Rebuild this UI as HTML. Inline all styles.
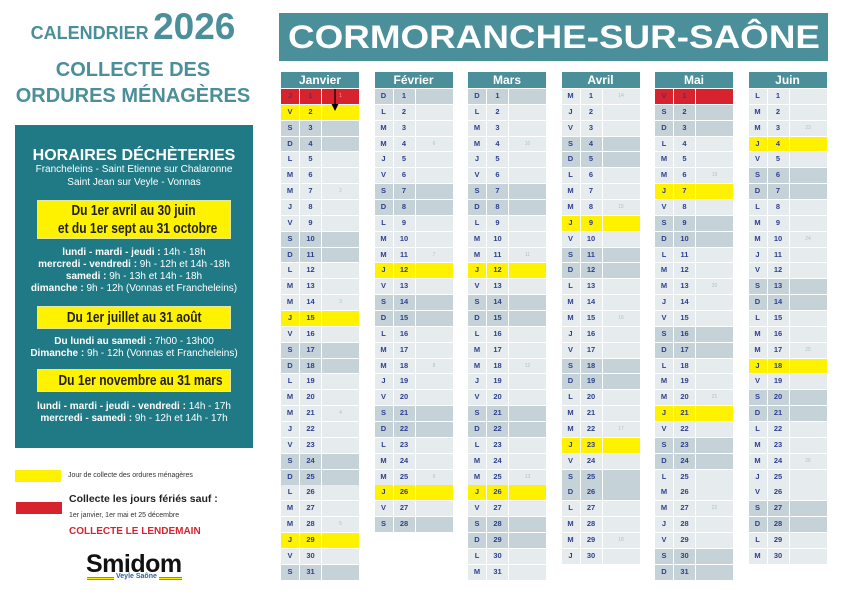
<!DOCTYPE html>
<html><head><meta charset="utf-8"><style>
*{box-sizing:border-box}
body{margin:0;width:842px;height:595px;background:#fff;position:relative;overflow:hidden;font-family:"Liberation Sans",sans-serif}
.a{position:absolute}
.m{position:absolute;top:72px;width:78px}
.m h3{margin:0;height:16px;background:#4a8f99;color:#fff;font-size:12px;font-weight:bold;text-align:center;line-height:16px}
.m .g{margin-top:1px;display:grid;grid-auto-rows:14.87px;row-gap:1px}
.m p{margin:0;display:grid;grid-template-columns:18px 21px 37px;column-gap:1px}
.m p b{background:#e6ecee;color:#2e3f8f;font-size:7.5px;text-align:center;line-height:14.87px}
.m p b:nth-child(3){color:#b5bec4;font-weight:normal;font-size:5px}
.m p.e b{background:#c5d3d8}
.m p.y b{background:#fff200}
.m p.r b{background:#d7232e;color:#6a2a6a}
.m p.r b:nth-child(3){color:#f0a0a0}
.c{text-align:center;color:#fff;white-space:nowrap}
.yb{position:absolute;left:37px;width:194px;background:#fff200;border:1px solid #e0e8a0;color:#222;font-weight:bold;text-align:center;font-size:15px;line-height:18px;white-space:nowrap}
.sx{display:inline-block;transform:scaleX(.8);transform-origin:center}
</style></head><body>

<div class="a" style="left:0;width:266px;top:6px;text-align:center;color:#4a8f99;font-weight:bold;white-space:nowrap"><span style="font-size:18px">CALENDRIER</span> <span style="font-size:37px">2026</span></div>
<div class="a" style="left:0;width:266px;top:57px;text-align:center;color:#4a8f99;font-weight:bold;font-size:20px;line-height:26px;white-space:nowrap">COLLECTE DES<br>ORDURES MÉNAGÈRES</div>

<div class="a" style="left:15px;top:125px;width:238px;height:323px;background:#1f7a86"></div>
<div class="a c" style="left:15px;width:238px;top:147px;font-size:16px;font-weight:bold">HORAIRES DÉCHÈTERIES</div>
<div class="a c" style="left:15px;width:238px;top:164px;font-size:10px;line-height:12.5px">Francheleins - Saint Etienne sur Chalaronne<br>Saint Jean sur Veyle - Vonnas</div>
<div class="yb" style="top:200px;height:39px;padding-top:1px"><span class="sx">Du 1er avril au 30 juin</span><br><span class="sx">et du 1er sept au 31 octobre</span></div>
<div class="a c" style="left:15px;width:238px;top:247px;font-size:10px;line-height:12px"><b>lundi - mardi - jeudi :</b> 14h - 18h<br><b>mercredi - vendredi :</b> 9h - 12h et 14h -18h<br><b>samedi :</b> 9h - 13h et 14h - 18h<br><b>dimanche :</b> 9h - 12h (Vonnas et Francheleins)</div>
<div class="yb" style="top:306px;height:23px;line-height:21px"><span class="sx">Du 1er juillet au 31 août</span></div>
<div class="a c" style="left:15px;width:238px;top:336px;font-size:10px;line-height:12px"><b>Du lundi au samedi :</b> 7h00 - 13h00<br><b>Dimanche :</b> 9h - 12h (Vonnas et Francheleins)</div>
<div class="yb" style="top:369px;height:23px;line-height:21px"><span class="sx">Du 1er novembre au 31 mars</span></div>
<div class="a c" style="left:15px;width:238px;top:401px;font-size:10px;line-height:12px"><b>lundi - mardi - jeudi - vendredi :</b> 14h - 17h<br><b>mercredi - samedi :</b> 9h - 12h et 14h - 17h</div>

<div class="a" style="left:15px;top:470px;width:46px;height:12px;background:#fff200"></div>
<div class="a" style="left:68px;top:472px;font-size:7px;color:#333">Jour de collecte des ordures ménagères</div>
<div class="a" style="left:16px;top:502px;width:46px;height:12px;background:#d7232e"></div>
<div class="a" style="left:69px;top:493px;font-size:10.5px;font-weight:bold;color:#222">Collecte les jours fériés sauf :</div>
<div class="a" style="left:69px;top:512px;font-size:7px;color:#333">1er janvier, 1er mai et 25 décembre</div>
<div class="a" style="left:69px;top:526px;font-size:10px;font-weight:bold;color:#d7232e">COLLECTE LE LENDEMAIN</div>
<div class="a" style="left:86px;top:550px;font-size:25px;font-weight:bold;color:#111;letter-spacing:-0.5px">Smidom</div>
<div class="a" style="left:87px;top:577px;width:95px;height:3px;background:linear-gradient(#3aa0c8 0 1px,#fff200 1px 2px,#3aa0c8 2px)"></div>
<div class="a" style="left:114px;top:573px;font-size:7px;color:#2e5fa8;background:#fff;padding:0 2px;font-weight:bold">Veyle Saône</div>

<svg class="a" style="left:279px;top:13px" width="549" height="48"><rect width="549" height="48" fill="#4a8f99"/><text x="9" y="35" font-family="Liberation Sans" font-weight="bold" font-size="32" fill="#fff" textLength="532" lengthAdjust="spacingAndGlyphs">CORMORANCHE-SUR-SAÔNE</text></svg>

<div class="m" style="left:281px"><h3>Janvier</h3><div class="g">
<p class="r"><b>J</b><b>1</b><b>1</b></p><p class="y"><b>V</b><b>2</b><b></b></p><p class="e"><b>S</b><b>3</b><b></b></p><p class="e"><b>D</b><b>4</b><b></b></p><p><b>L</b><b>5</b><b></b></p><p><b>M</b><b>6</b><b></b></p><p><b>M</b><b>7</b><b>2</b></p><p><b>J</b><b>8</b><b></b></p><p><b>V</b><b>9</b><b></b></p><p class="e"><b>S</b><b>10</b><b></b></p><p class="e"><b>D</b><b>11</b><b></b></p><p><b>L</b><b>12</b><b></b></p><p><b>M</b><b>13</b><b></b></p><p><b>M</b><b>14</b><b>3</b></p><p class="y"><b>J</b><b>15</b><b></b></p><p><b>V</b><b>16</b><b></b></p><p class="e"><b>S</b><b>17</b><b></b></p><p class="e"><b>D</b><b>18</b><b></b></p><p><b>L</b><b>19</b><b></b></p><p><b>M</b><b>20</b><b></b></p><p><b>M</b><b>21</b><b>4</b></p><p><b>J</b><b>22</b><b></b></p><p><b>V</b><b>23</b><b></b></p><p class="e"><b>S</b><b>24</b><b></b></p><p class="e"><b>D</b><b>25</b><b></b></p><p><b>L</b><b>26</b><b></b></p><p><b>M</b><b>27</b><b></b></p><p><b>M</b><b>28</b><b>5</b></p><p class="y"><b>J</b><b>29</b><b></b></p><p><b>V</b><b>30</b><b></b></p><p class="e"><b>S</b><b>31</b><b></b></p></div></div>
<svg class="a" style="left:330px;top:88px" width="10" height="24"><line x1="5" y1="1" x2="5" y2="18" stroke="#000" stroke-width="1.2"/><polygon points="1.5,16 8.5,16 5,23" fill="#000"/></svg>

<div class="m" style="left:374.5px"><h3>Février</h3><div class="g">
<p class="e"><b>D</b><b>1</b><b></b></p><p><b>L</b><b>2</b><b></b></p><p><b>M</b><b>3</b><b></b></p><p><b>M</b><b>4</b><b>6</b></p><p><b>J</b><b>5</b><b></b></p><p><b>V</b><b>6</b><b></b></p><p class="e"><b>S</b><b>7</b><b></b></p><p class="e"><b>D</b><b>8</b><b></b></p><p><b>L</b><b>9</b><b></b></p><p><b>M</b><b>10</b><b></b></p><p><b>M</b><b>11</b><b>7</b></p><p class="y"><b>J</b><b>12</b><b></b></p><p><b>V</b><b>13</b><b></b></p><p class="e"><b>S</b><b>14</b><b></b></p><p class="e"><b>D</b><b>15</b><b></b></p><p><b>L</b><b>16</b><b></b></p><p><b>M</b><b>17</b><b></b></p><p><b>M</b><b>18</b><b>8</b></p><p><b>J</b><b>19</b><b></b></p><p><b>V</b><b>20</b><b></b></p><p class="e"><b>S</b><b>21</b><b></b></p><p class="e"><b>D</b><b>22</b><b></b></p><p><b>L</b><b>23</b><b></b></p><p><b>M</b><b>24</b><b></b></p><p><b>M</b><b>25</b><b>9</b></p><p class="y"><b>J</b><b>26</b><b></b></p><p><b>V</b><b>27</b><b></b></p><p class="e"><b>S</b><b>28</b><b></b></p></div></div>

<div class="m" style="left:468px"><h3>Mars</h3><div class="g">
<p class="e"><b>D</b><b>1</b><b></b></p><p><b>L</b><b>2</b><b></b></p><p><b>M</b><b>3</b><b></b></p><p><b>M</b><b>4</b><b>10</b></p><p><b>J</b><b>5</b><b></b></p><p><b>V</b><b>6</b><b></b></p><p class="e"><b>S</b><b>7</b><b></b></p><p class="e"><b>D</b><b>8</b><b></b></p><p><b>L</b><b>9</b><b></b></p><p><b>M</b><b>10</b><b></b></p><p><b>M</b><b>11</b><b>11</b></p><p class="y"><b>J</b><b>12</b><b></b></p><p><b>V</b><b>13</b><b></b></p><p class="e"><b>S</b><b>14</b><b></b></p><p class="e"><b>D</b><b>15</b><b></b></p><p><b>L</b><b>16</b><b></b></p><p><b>M</b><b>17</b><b></b></p><p><b>M</b><b>18</b><b>12</b></p><p><b>J</b><b>19</b><b></b></p><p><b>V</b><b>20</b><b></b></p><p class="e"><b>S</b><b>21</b><b></b></p><p class="e"><b>D</b><b>22</b><b></b></p><p><b>L</b><b>23</b><b></b></p><p><b>M</b><b>24</b><b></b></p><p><b>M</b><b>25</b><b>13</b></p><p class="y"><b>J</b><b>26</b><b></b></p><p><b>V</b><b>27</b><b></b></p><p class="e"><b>S</b><b>28</b><b></b></p><p class="e"><b>D</b><b>29</b><b></b></p><p><b>L</b><b>30</b><b></b></p><p><b>M</b><b>31</b><b></b></p></div></div>

<div class="m" style="left:561.5px"><h3>Avril</h3><div class="g">
<p><b>M</b><b>1</b><b>14</b></p><p><b>J</b><b>2</b><b></b></p><p><b>V</b><b>3</b><b></b></p><p class="e"><b>S</b><b>4</b><b></b></p><p class="e"><b>D</b><b>5</b><b></b></p><p><b>L</b><b>6</b><b></b></p><p><b>M</b><b>7</b><b></b></p><p><b>M</b><b>8</b><b>15</b></p><p class="y"><b>J</b><b>9</b><b></b></p><p><b>V</b><b>10</b><b></b></p><p class="e"><b>S</b><b>11</b><b></b></p><p class="e"><b>D</b><b>12</b><b></b></p><p><b>L</b><b>13</b><b></b></p><p><b>M</b><b>14</b><b></b></p><p><b>M</b><b>15</b><b>16</b></p><p><b>J</b><b>16</b><b></b></p><p><b>V</b><b>17</b><b></b></p><p class="e"><b>S</b><b>18</b><b></b></p><p class="e"><b>D</b><b>19</b><b></b></p><p><b>L</b><b>20</b><b></b></p><p><b>M</b><b>21</b><b></b></p><p><b>M</b><b>22</b><b>17</b></p><p class="y"><b>J</b><b>23</b><b></b></p><p><b>V</b><b>24</b><b></b></p><p class="e"><b>S</b><b>25</b><b></b></p><p class="e"><b>D</b><b>26</b><b></b></p><p><b>L</b><b>27</b><b></b></p><p><b>M</b><b>28</b><b></b></p><p><b>M</b><b>29</b><b>18</b></p><p><b>J</b><b>30</b><b></b></p></div></div>

<div class="m" style="left:655px"><h3>Mai</h3><div class="g">
<p class="r"><b>V</b><b>1</b><b></b></p><p class="e"><b>S</b><b>2</b><b></b></p><p class="e"><b>D</b><b>3</b><b></b></p><p><b>L</b><b>4</b><b></b></p><p><b>M</b><b>5</b><b></b></p><p><b>M</b><b>6</b><b>19</b></p><p class="y"><b>J</b><b>7</b><b></b></p><p><b>V</b><b>8</b><b></b></p><p class="e"><b>S</b><b>9</b><b></b></p><p class="e"><b>D</b><b>10</b><b></b></p><p><b>L</b><b>11</b><b></b></p><p><b>M</b><b>12</b><b></b></p><p><b>M</b><b>13</b><b>20</b></p><p><b>J</b><b>14</b><b></b></p><p><b>V</b><b>15</b><b></b></p><p class="e"><b>S</b><b>16</b><b></b></p><p class="e"><b>D</b><b>17</b><b></b></p><p><b>L</b><b>18</b><b></b></p><p><b>M</b><b>19</b><b></b></p><p><b>M</b><b>20</b><b>21</b></p><p class="y"><b>J</b><b>21</b><b></b></p><p><b>V</b><b>22</b><b></b></p><p class="e"><b>S</b><b>23</b><b></b></p><p class="e"><b>D</b><b>24</b><b></b></p><p><b>L</b><b>25</b><b></b></p><p><b>M</b><b>26</b><b></b></p><p><b>M</b><b>27</b><b>22</b></p><p><b>J</b><b>28</b><b></b></p><p><b>V</b><b>29</b><b></b></p><p class="e"><b>S</b><b>30</b><b></b></p><p class="e"><b>D</b><b>31</b><b></b></p></div></div>

<div class="m" style="left:748.5px"><h3>Juin</h3><div class="g">
<p><b>L</b><b>1</b><b></b></p><p><b>M</b><b>2</b><b></b></p><p><b>M</b><b>3</b><b>23</b></p><p class="y"><b>J</b><b>4</b><b></b></p><p><b>V</b><b>5</b><b></b></p><p class="e"><b>S</b><b>6</b><b></b></p><p class="e"><b>D</b><b>7</b><b></b></p><p><b>L</b><b>8</b><b></b></p><p><b>M</b><b>9</b><b></b></p><p><b>M</b><b>10</b><b>24</b></p><p><b>J</b><b>11</b><b></b></p><p><b>V</b><b>12</b><b></b></p><p class="e"><b>S</b><b>13</b><b></b></p><p class="e"><b>D</b><b>14</b><b></b></p><p><b>L</b><b>15</b><b></b></p><p><b>M</b><b>16</b><b></b></p><p><b>M</b><b>17</b><b>25</b></p><p class="y"><b>J</b><b>18</b><b></b></p><p><b>V</b><b>19</b><b></b></p><p class="e"><b>S</b><b>20</b><b></b></p><p class="e"><b>D</b><b>21</b><b></b></p><p><b>L</b><b>22</b><b></b></p><p><b>M</b><b>23</b><b></b></p><p><b>M</b><b>24</b><b>26</b></p><p><b>J</b><b>25</b><b></b></p><p><b>V</b><b>26</b><b></b></p><p class="e"><b>S</b><b>27</b><b></b></p><p class="e"><b>D</b><b>28</b><b></b></p><p><b>L</b><b>29</b><b></b></p><p><b>M</b><b>30</b><b></b></p></div></div>

</body></html>
